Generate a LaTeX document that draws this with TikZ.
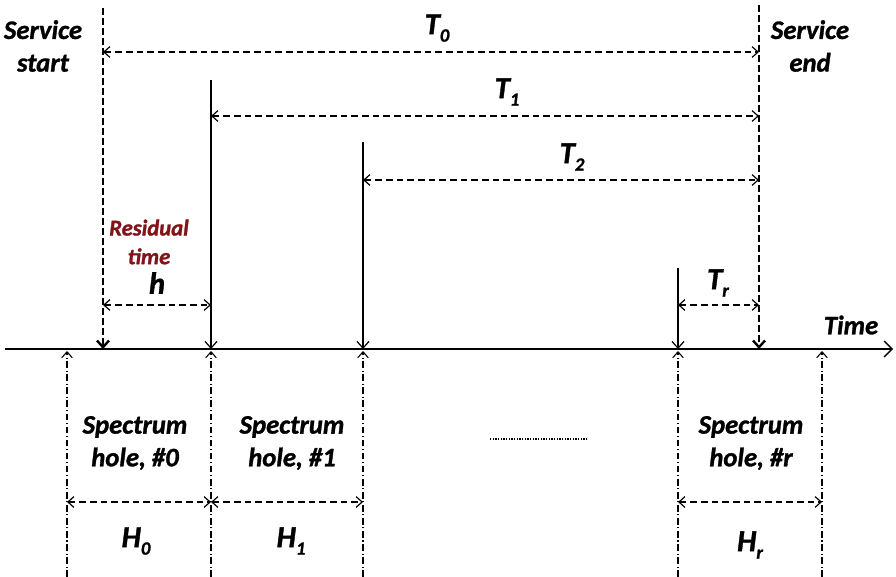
\documentclass[tikz,border=0pt]{standalone}
\usepackage{fontspec}
\setmainfont{Carlito}[BoldItalicFeatures={FakeBold=1.2}]
\usetikzlibrary{arrows.meta}
\definecolor{resred}{RGB}{130,20,25}
\newcommand{\lsub}[1]{\raisebox{-0.5ex}{\fontsize{14}{14}\selectfont #1}}
\begin{document}
\begin{tikzpicture}[x=0.75pt,y=-0.75pt,
  lbl/.style={font=\fontsize{20}{24.5}\selectfont\bfseries\itshape, align=center, inner sep=0pt},
  big/.style={font=\fontsize{23}{24}\selectfont\bfseries\itshape, inner sep=0pt},
  res/.style={font=\fontsize{17}{21.5}\selectfont\bfseries\itshape, text=resred, align=center, inner sep=0pt},
  span/.style={dash pattern=on 5pt off 3pt, line width=0.9pt, {Straight Barb[length=4.5pt,width=8pt]}-{Straight Barb[length=4.5pt,width=8pt]}},
  svc/.style={line width=1.5pt, dash pattern=on 5pt off 2.5pt, -{Straight Barb[length=5pt,width=9pt,line width=1.8pt]}},
  tick/.style={line width=0.9pt, -{Straight Barb[length=5pt,width=9pt]}},
  hole/.style={line width=0.8pt, dash pattern=on 5pt off 2pt on 0.8pt off 2pt, -{Straight Barb[length=4.5pt,width=8pt]}},
  axisline/.style={line width=1.3pt, -{Straight Barb[length=6pt,width=12pt,line width=1pt]}}
]
\useasboundingbox (0,0) rectangle (896,577);

% axis
\coordinate (axL) at (5,349);
\coordinate (axR) at (893,349);
\draw[axisline] (axL) -- (axR);
\node[lbl] (time) at (851,325) {Time};

% service start / end
\coordinate (ssT) at (103,8);
\coordinate (ssB) at (103,349);
\coordinate (seT) at (759,5);
\coordinate (seB) at (759,349);
\draw[svc] (ssT) -- (ssB);
\draw[svc] (seT) -- (seB);
\node[lbl] (sstart) at (43,46) {Service\\start};
\node[lbl] (send) at (810,46) {Service\\end};

% marks on axis
\coordinate (m1T) at (211,80);
\coordinate (m1B) at (211,349);
\coordinate (m2T) at (363,142);
\coordinate (m2B) at (363,349);
\coordinate (mrT) at (678,268);
\coordinate (mrB) at (678,349);
\draw[tick] (m1T) -- (m1B);
\draw[tick] (m2T) -- (m2B);
\draw[tick] (mrT) -- (mrB);

% spans above axis
\coordinate (t0L) at (103,52);  \coordinate (t0R) at (759,52);
\coordinate (t1L) at (211,116); \coordinate (t1R) at (759,116);
\coordinate (t2L) at (363,180); \coordinate (t2R) at (759,180);
\coordinate (hL) at (103,305);  \coordinate (hR) at (211,305);
\coordinate (trL) at (678,305); \coordinate (trR) at (759,305);
\draw[span] (t0L) -- (t0R);
\draw[span] (t1L) -- (t1R);
\draw[span] (t2L) -- (t2R);
\draw[span] (hL) -- (hR);
\draw[span] (trL) -- (trR);
\node[big] (T0) at (437,28) {T\lsub{0}};
\node[big] (T1) at (507,92) {T\lsub{1}};
\node[big] (T2) at (572,157) {T\lsub{2}};
\node[big] (Tr) at (718,283) {T\lsub{r}};
\node[big] (h) at (157,283) {h};
\node[res] (resid) at (149,242) {Residual\\time};

% spectrum holes
\coordinate (b0) at (67,577);  \coordinate (a0) at (67,351);
\coordinate (b1) at (211,577); \coordinate (a1) at (211,351);
\coordinate (b2) at (363,577); \coordinate (a2) at (363,351);
\coordinate (b3) at (678,577); \coordinate (a3) at (678,351);
\coordinate (b4) at (822,577); \coordinate (a4) at (822,351);
\foreach \i in {0,...,4} \draw[hole] (b\i) -- (a\i);

\coordinate (H0L) at (67,502);  \coordinate (H0R) at (211,502);
\coordinate (H1L) at (211,502); \coordinate (H1R) at (363,502);
\coordinate (HrL) at (678,502); \coordinate (HrR) at (822,502);
\draw[span] (H0L) -- (H0R);
\draw[span] (H1L) -- (H1R);
\draw[span] (HrL) -- (HrR);

\node[lbl] (sh0) at (135,443) {Spectrum\\hole, \#0};
\node[lbl] (sh1) at (292,443) {Spectrum\\hole, \#1};
\node[lbl] (shr) at (751,443) {Spectrum\\hole, \#r};
\node[big] (H0) at (136,541) {H\lsub{0}};
\node[big] (H1) at (291,541) {H\lsub{1}};
\node[big] (Hr) at (750,545) {H\lsub{r}};

\coordinate (dotL) at (490,439);
\coordinate (dotR) at (588,439);
\draw[line width=0.8pt, dash pattern=on 1pt off 1pt] (dotL) -- (dotR);
\end{tikzpicture}
\end{document}
